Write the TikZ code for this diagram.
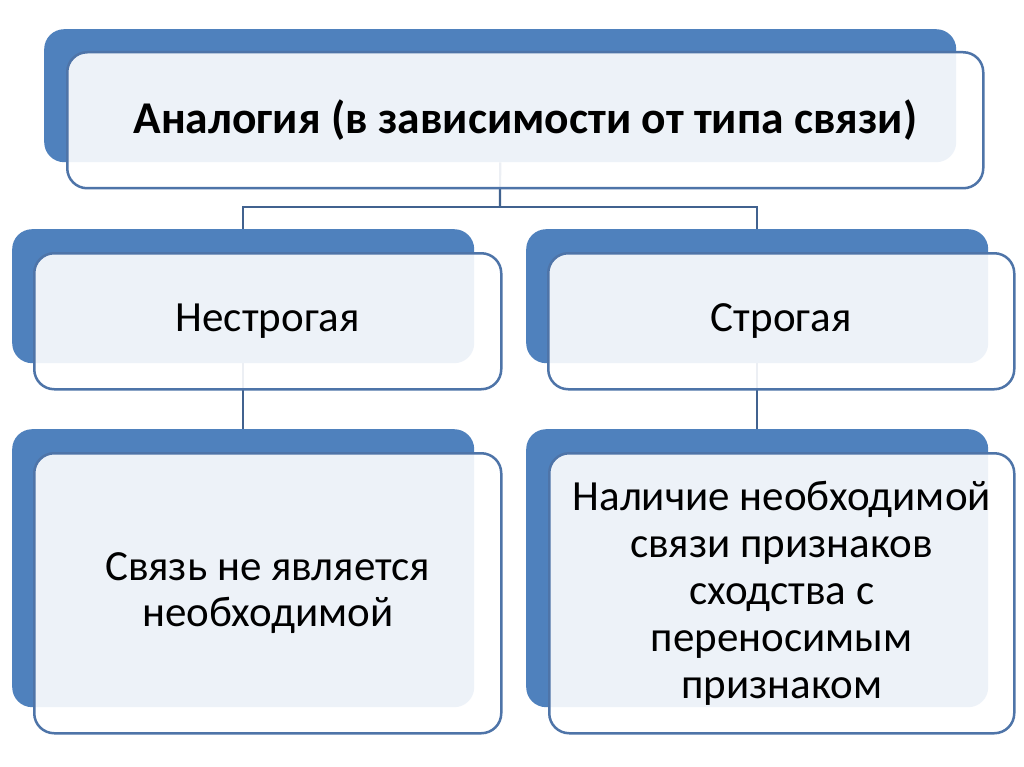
\documentclass[tikz,border=0pt]{standalone}
\usepackage{fontspec}
\setmainfont{Carlito}
\definecolor{backblue}{HTML}{4F81BD}
\definecolor{edgeblue}{HTML}{4E74A8}
\definecolor{linkblue}{HTML}{41628F}
\begin{document}
\begin{tikzpicture}[x=1pt,y=-1pt,
  backbox/.style={rectangle, rounded corners=20pt, fill=backblue, anchor=north west, inner sep=0pt},
  frontbox/.style={rectangle, rounded corners=20pt, fill=white, fill opacity=0.9, text opacity=1,
    draw=edgeblue, draw opacity=1, line width=2.5pt, anchor=north west, inner sep=0pt,
    align=center, font=\fontsize{43}{44}\selectfont},
  link/.style={draw=linkblue, line width=2.2pt}]
\fill[white] (0,0) rectangle (1024,767);
\useasboundingbox (0,0) rectangle (1024,767);

% back boxes
\node[backbox, minimum width=912pt, minimum height=133pt] (tb) at (44,29) {};
\node[backbox, minimum width=462pt, minimum height=134pt] (lb2) at (12,229) {};
\node[backbox, minimum width=462pt, minimum height=134pt] (rb2) at (526,229) {};
\node[backbox, minimum width=462pt, minimum height=278pt] (lb3) at (12,429) {};
\node[backbox, minimum width=462pt, minimum height=278pt] (rb3) at (526,429) {};

% connectors
\coordinate (split) at (500,207);
\draw[link] (tb.south) -- (split);
\draw[link] (split) -| (lb2.north);
\draw[link] (split) -| (rb2.north);
\draw[link] (lb2.south) -- (lb3.north);
\draw[link] (rb2.south) -- (rb3.north);

% front boxes
\node[frontbox, minimum width=916pt, minimum height=136pt] (tf) at (66,51)
  {\fontsize{45.5}{46}\selectfont\bfseries Аналогия (в зависимости от типа связи)};
\node[frontbox, minimum width=467pt, minimum height=136pt] (lf2) at (33,252) {Нестрогая};
\node[frontbox, minimum width=466pt, minimum height=136pt] (rf2) at (547,252) {Строгая};
\node[frontbox, minimum width=467pt, minimum height=280pt] (lf3) at (33,452)
  {Связь не является\\[2pt]необходимой};
\node[frontbox, minimum width=465pt, minimum height=280pt,
      font=\fontsize{43}{47}\selectfont] (rf3) at (548,452)
  {Наличие необходимой\\связи признаков\\сходства с\\переносимым\\признаком};
\end{tikzpicture}
\end{document}
